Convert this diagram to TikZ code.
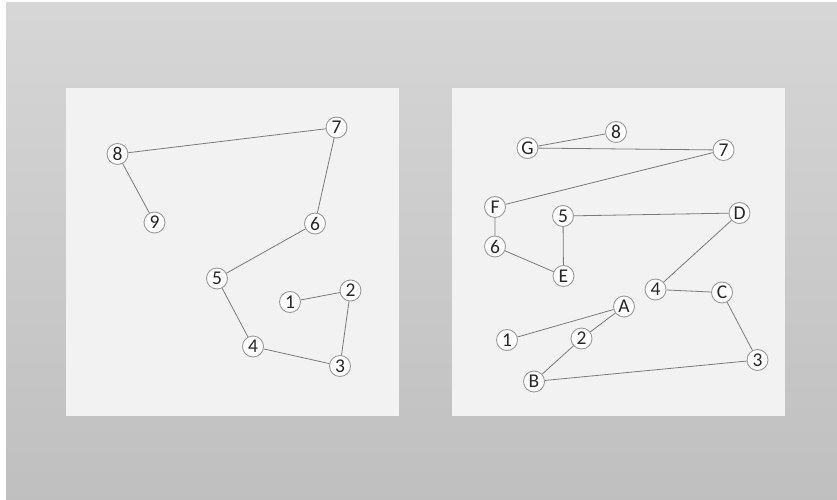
\documentclass[tikz,border=0pt]{standalone}
\usepackage{fontspec}
\setmainfont{Carlito}
\definecolor{panelgray}{HTML}{F2F2F2}
\definecolor{ringgray}{HTML}{9A9A9A}
\definecolor{linegray}{HTML}{7A7A7A}
\begin{document}
\begin{tikzpicture}[x=1pt, y=-1pt,
  dot/.style={circle, draw=ringgray, fill=white, line width=0.9pt,
    minimum size=21pt, inner sep=0pt, text=black!85,
    font=\fontsize{19.5}{19.5}\selectfont},
  link/.style={draw=linegray, line width=0.8pt}]
  \useasboundingbox (0,0) rectangle (837,500);
  \fill[white] (0,0) rectangle (837,500);
  \shade[top color=black!16, bottom color=black!25] (6,3) rectangle (837,500);
  \fill[panelgray] (66,88) rectangle (399,416);
  \fill[panelgray] (452,88) rectangle (785,416);
  % left panel
  \node[dot] (l1) at (290,302) {1};
  \node[dot] (l2) at (350.5,290.5) {2};
  \node[dot] (l3) at (340,366) {3};
  \node[dot] (l4) at (253,346.5) {4};
  \node[dot] (l5) at (217,278.5) {5};
  \node[dot] (l6) at (315,223.5) {6};
  \node[dot] (l7) at (336.5,127.5) {7};
  \node[dot] (l8) at (117.5,154) {8};
  \node[dot] (l9) at (154.5,222.5) {9};
  \draw[link] (l1) -- (l2) -- (l3) -- (l4) -- (l5) -- (l6) -- (l7) -- (l8) -- (l9);
  % right panel
  \node[dot] (r8) at (616,132) {8};
  \node[dot] (rG) at (527.5,148) {G};
  \node[dot] (r7) at (723.5,150) {7};
  \node[dot] (rF) at (495,207) {F};
  \node[dot] (r5) at (563,216) {5};
  \node[dot] (rD) at (739.5,213) {D};
  \node[dot] (r6) at (495,246.5) {6};
  \node[dot] (rE) at (563.5,276) {E};
  \node[dot] (r4) at (655.5,289.5) {4};
  \node[dot] (rC) at (722,292.5) {C};
  \node[dot] (rA) at (624,306.5) {A};
  \node[dot] (r1) at (507,340) {1};
  \node[dot] (r2) at (581.5,338.5) {2};
  \node[dot] (r3) at (757.5,360) {3};
  \node[dot] (rB) at (534,381.5) {B};
  \draw[link] (r8) -- (rG) -- (r7) -- (rF) -- (r6) -- (rE) -- (r5) -- (rD) -- (r4)
    -- (rC) -- (r3) -- (rB) -- (r2) -- (rA) -- (r1);
\end{tikzpicture}
\end{document}
